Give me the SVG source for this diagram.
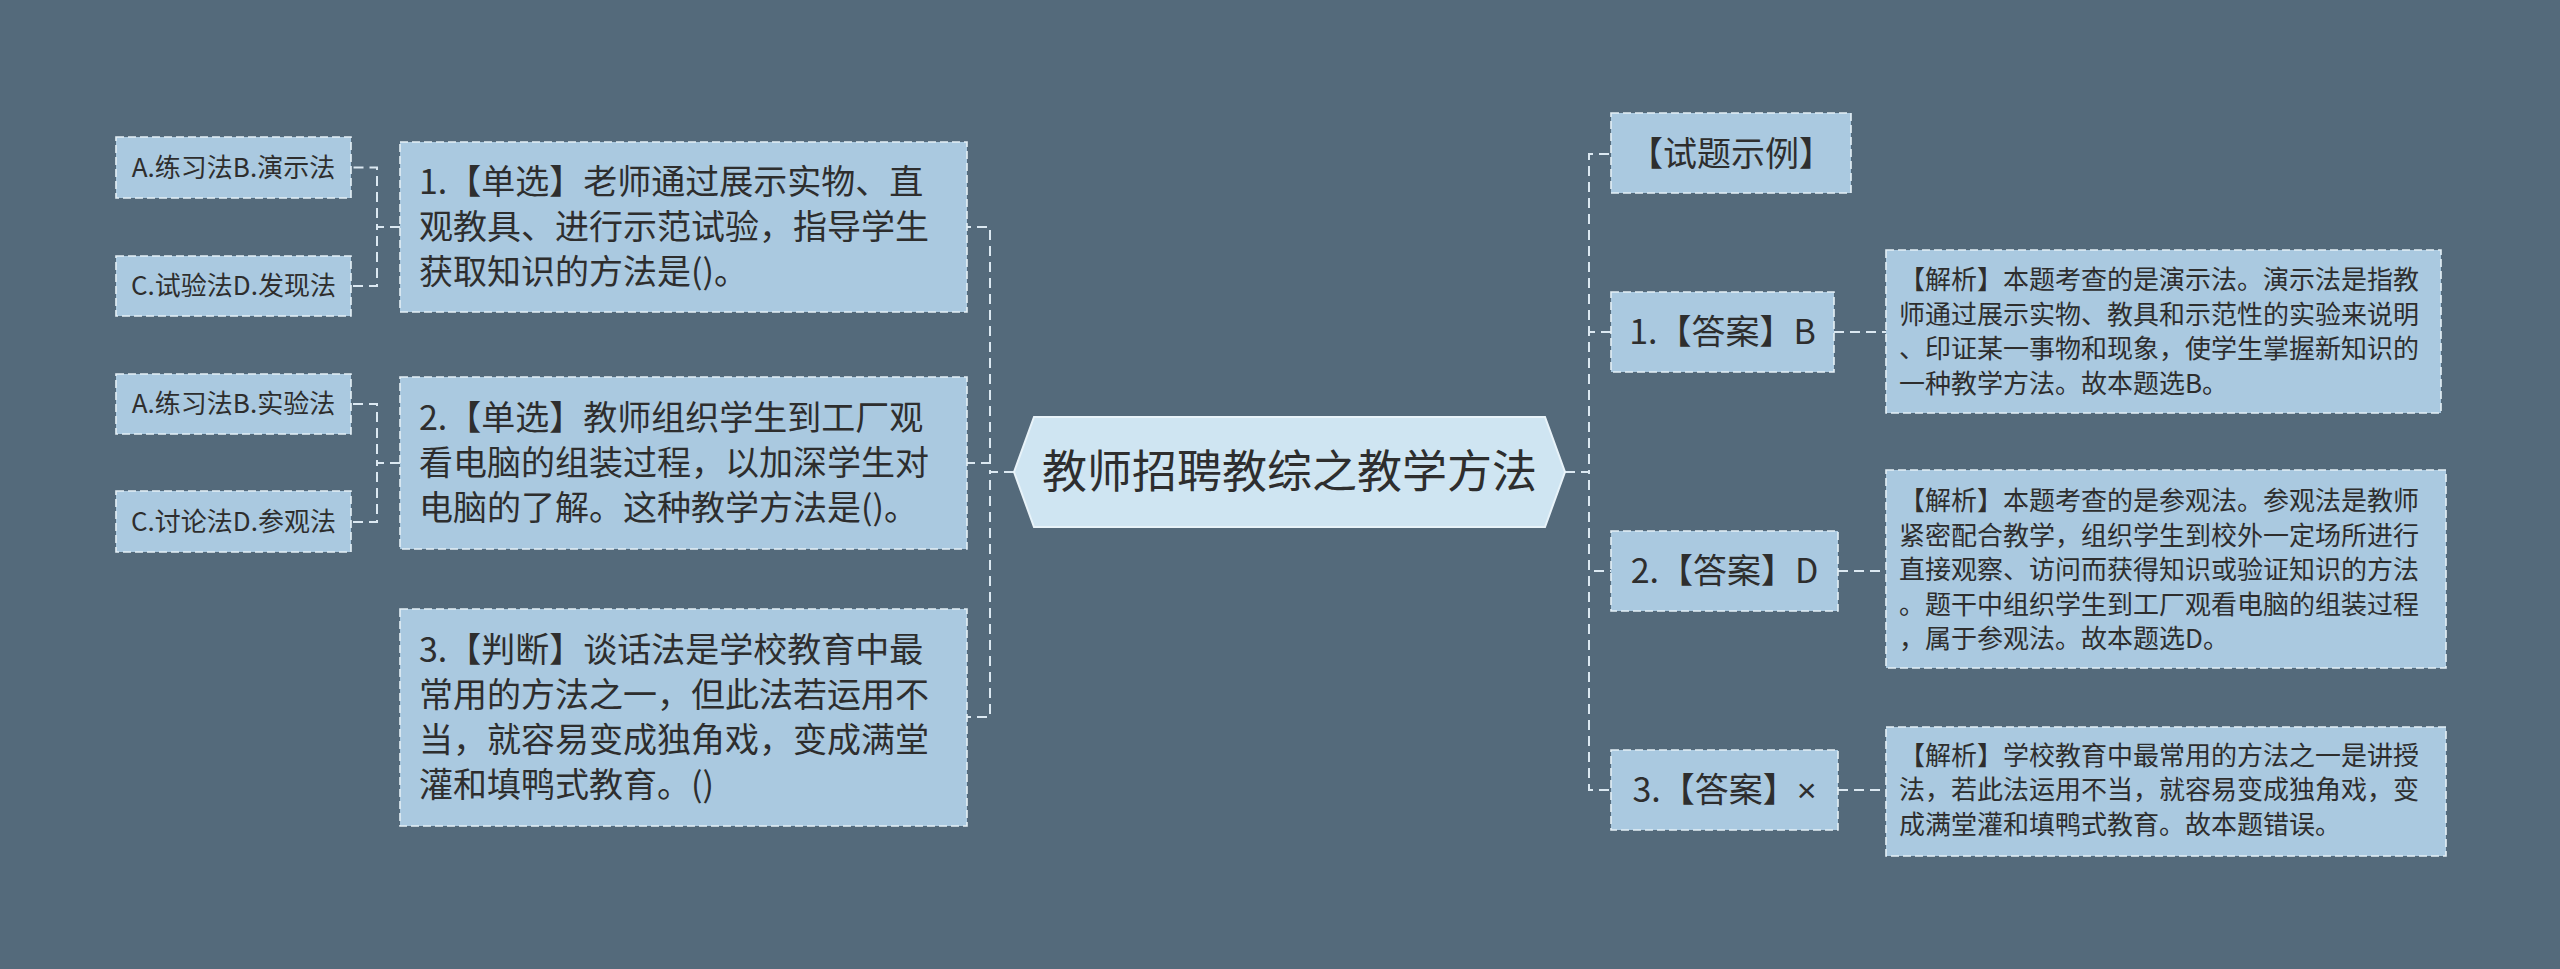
<svg xmlns="http://www.w3.org/2000/svg" width="2560" height="969" viewBox="0 0 2560 969">
<style>
.bg{fill:#546a7b}
.box{fill:#aac9e0;stroke:#e4eff6;stroke-width:1.6;stroke-dasharray:8 4}
.hex{fill:#cfe5f2;stroke:#e8f3f9;stroke-width:2}
.conn{fill:none;stroke:#dbe8f1;stroke-width:2;stroke-dasharray:10 6}
text{font-family:"Noto Sans CJK SC","Noto Sans",sans-serif;fill:#2e2e2e}
.t34{font-size:34px}
.t26{font-size:26px}
.t45{font-size:45px}
.mid{text-anchor:middle}
.lat{font-family:"Liberation Sans",sans-serif}
</style>
<rect class="bg" x="0" y="0" width="2560" height="969"/>
<g id="connectors">
<path class="conn" d="M1014 472H990V227H967"/>
<path class="conn" d="M1014 472H990V463H967"/>
<path class="conn" d="M1014 472H990V717H967"/>
<path class="conn" d="M400 227H377V167.5H351"/>
<path class="conn" d="M400 227H377V286H351"/>
<path class="conn" d="M400 463H377V404H351"/>
<path class="conn" d="M400 463H377V522H351"/>
<path class="conn" d="M1565 472H1589V154H1611"/>
<path class="conn" d="M1565 472H1589V332H1611"/>
<path class="conn" d="M1565 472H1589V571H1611"/>
<path class="conn" d="M1565 472H1589V790H1611"/>
<path class="conn" d="M1834 332H1886"/>
<path class="conn" d="M1838 571H1886"/>
<path class="conn" d="M1838 790H1886"/>
</g>
<g id="root">
<polygon class="hex" points="1014,472 1034,417 1545,417 1565,472 1545,527 1034,527"/>
<text class="t45 mid" x="1289.5" y="488">教师招聘教综之教学方法</text>
</g>
<g id="q1">
<rect class="box" x="400" y="142" width="567" height="170"/>
<text class="t34" x="419" y="194">1.【单选】老师通过展示实物、直</text>
<text class="t34" x="419" y="239">观教具、进行示范试验，指导学生</text>
<text class="t34" x="419" y="284">获取知识的方法是()。</text>
</g>
<g id="q1a">
<rect class="box" x="116" y="137" width="235" height="61"/>
<text class="t26 mid" x="233.5" y="177">A.练习法B.演示法</text>
</g>
<g id="q1b">
<rect class="box" x="116" y="256" width="235" height="60"/>
<text class="t26 mid" x="233.5" y="295">C.试验法D.发现法</text>
</g>
<g id="q2">
<rect class="box" x="400" y="377" width="567" height="172"/>
<text class="t34" x="419" y="430">2.【单选】教师组织学生到工厂观</text>
<text class="t34" x="419" y="475">看电脑的组装过程，以加深学生对</text>
<text class="t34" x="419" y="520">电脑的了解。这种教学方法是()。</text>
</g>
<g id="q2a">
<rect class="box" x="116" y="374" width="235" height="60"/>
<text class="t26 mid" x="233.5" y="413">A.练习法B.实验法</text>
</g>
<g id="q2b">
<rect class="box" x="116" y="491" width="235" height="61"/>
<text class="t26 mid" x="233.5" y="531">C.讨论法D.参观法</text>
</g>
<g id="q3">
<rect class="box" x="400" y="609" width="567" height="217"/>
<text class="t34" x="419" y="662">3.【判断】谈话法是学校教育中最</text>
<text class="t34" x="419" y="707">常用的方法之一，但此法若运用不</text>
<text class="t34" x="419" y="752">当，就容易变成独角戏，变成满堂</text>
<text class="t34" x="419" y="797">灌和填鸭式教育。()</text>
</g>
<g id="example">
<rect class="box" x="1611" y="113" width="240" height="80"/>
<text class="t34 mid" x="1731" y="166">【试题示例】</text>
</g>
<g id="a1">
<rect class="box" x="1611" y="292" width="223" height="80"/>
<text class="t34 mid" x="1722.5" y="344">1.【答案】B</text>
</g>
<g id="a2">
<rect class="box" x="1611" y="531" width="227" height="80"/>
<text class="t34 mid" x="1724.5" y="583">2.【答案】D</text>
</g>
<g id="a3">
<rect class="box" x="1611" y="750" width="227" height="80"/>
<text class="t34 mid" x="1724.5" y="802">3.【答案】<tspan class="lat">×</tspan></text>
</g>
<g id="e1">
<rect class="box" x="1886" y="250" width="555" height="163"/>
<text class="t26" x="1899" y="289">【解析】本题考查的是演示法。演示法是指教</text>
<text class="t26" x="1899" y="324">师通过展示实物、教具和示范性的实验来说明</text>
<text class="t26" x="1899" y="358">、印证某一事物和现象，使学生掌握新知识的</text>
<text class="t26" x="1899" y="393">一种教学方法。故本题选B。</text>
</g>
<g id="e2">
<rect class="box" x="1886" y="470" width="560" height="198"/>
<text class="t26" x="1899" y="510">【解析】本题考查的是参观法。参观法是教师</text>
<text class="t26" x="1899" y="545">紧密配合教学，组织学生到校外一定场所进行</text>
<text class="t26" x="1899" y="579">直接观察、访问而获得知识或验证知识的方法</text>
<text class="t26" x="1899" y="614">。题干中组织学生到工厂观看电脑的组装过程</text>
<text class="t26" x="1899" y="648">，属于参观法。故本题选D。</text>
</g>
<g id="e3">
<rect class="box" x="1886" y="727" width="560" height="129"/>
<text class="t26" x="1899" y="765">【解析】学校教育中最常用的方法之一是讲授</text>
<text class="t26" x="1899" y="799">法，若此法运用不当，就容易变成独角戏，变</text>
<text class="t26" x="1899" y="834">成满堂灌和填鸭式教育。故本题错误。</text>
</g>
</svg>
